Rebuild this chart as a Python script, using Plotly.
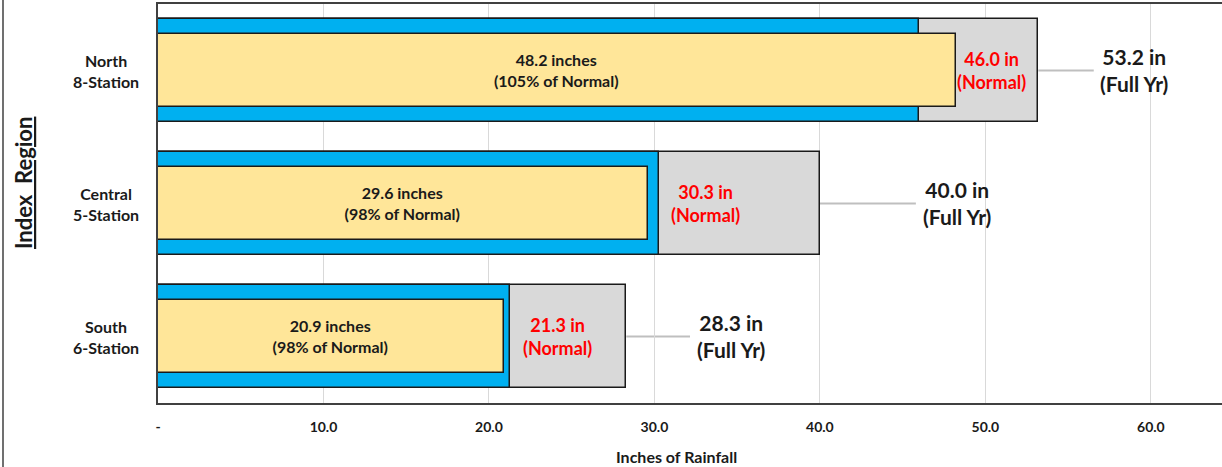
import plotly.graph_objects as go

# ---- data ----
regions = ["North", "Central", "South"]
region_labels = ["North<br>8-Station", "Central<br>5-Station", "South<br>6-Station"]
full_year = [53.2, 40.0, 28.3]
normal = [46.0, 30.3, 21.3]
actual = [48.2, 29.6, 20.9]
pct_normal = [105, 98, 98]
tick_vals = [0, 10, 20, 30, 40, 50, 60]
tick_text = ["-", "10.0", "20.0", "30.0", "40.0", "50.0", "60.0"]

# label positions (layout only)
normal_label_x = [50.4, 33.1, 24.15]
full_label_x = [59.0, 48.3, 34.65]
leader_end_x = [56.55, 45.8, 32.15]

FONT = "Lato"
W, H = 1222, 467
L, R, T, B = 158, 0, 4, 64
PW = W - L - R
PH = H - T - B

def px_to_paper_x(px):
    return (px - L) / PW

def px_to_paper_y(py):
    return (H - B - py) / PH

fig = go.Figure()

outline = dict(color="#1a1a1a", width=1.5)
fig.add_trace(go.Bar(y=regions, x=full_year, orientation="h", width=0.77,
                     marker=dict(color="#d9d9d9", line=outline), hoverinfo="skip"))
fig.add_trace(go.Bar(y=regions, x=normal, orientation="h", width=0.77,
                     marker=dict(color="#00b0f0", line=outline), hoverinfo="skip"))
fig.add_trace(go.Bar(y=regions, x=actual, orientation="h", width=0.555,
                     marker=dict(color="#ffe699", line=outline), hoverinfo="skip",
                     text=[f"<b>{a:.1f} inches<br>({p}% of Normal)</b>" for a, p in zip(actual, pct_normal)],
                     textposition="inside", insidetextanchor="middle",
                     textfont=dict(family=FONT, size=16, color="#1a1a1a")))

annotations = []
shapes = []
for i, r in enumerate(regions):
    annotations.append(dict(x=normal_label_x[i], y=r, xref="x", yref="y",
                            text=f"<b>{normal[i]:.1f} in<br>(Normal)</b>", showarrow=False,
                            font=dict(family=FONT, size=18, color="#ff0000"),
                            xanchor="center", yanchor="middle", yshift=0))
    annotations.append(dict(x=full_label_x[i], y=r, xref="x", yref="y",
                            text=f"<b>{full_year[i]:.1f} in<br>(Full Yr)</b>", showarrow=False,
                            font=dict(family=FONT, size=21, color="#1a1a1a"),
                            xanchor="center", yanchor="middle", yshift=1))
    annotations.append(dict(x=px_to_paper_x(106), y=r, xref="paper", yref="y",
                            text=f"<b>{region_labels[i]}</b>", showarrow=False,
                            font=dict(family=FONT, size=16, color="#1a1a1a"),
                            xanchor="center", yanchor="middle", align="center"))
    shapes.append(dict(type="line", xref="x", yref="y", x0=full_year[i], x1=leader_end_x[i],
                       y0=r, y1=r, line=dict(color="#bfbfbf", width=2), layer="below"))

annotations.append(dict(x=px_to_paper_x(676), y=px_to_paper_y(456), xref="paper", yref="paper",
                        text="<b>Inches of Rainfall</b>", showarrow=False,
                        font=dict(family=FONT, size=16, color="#1a1a1a"),
                        xanchor="center", yanchor="middle"))
annotations.append(dict(x=px_to_paper_x(23), y=px_to_paper_y(183), xref="paper", yref="paper",
                        text="<b><u>Index\u00a0\u00a0Region</u></b>", showarrow=False, textangle=-90,
                        font=dict(family=FONT, size=22, color="#1a1a1a"),
                        xanchor="center", yanchor="middle"))

shapes.append(dict(type="line", xref="paper", yref="paper",
                   x0=px_to_paper_x(3), x1=px_to_paper_x(3),
                   y0=px_to_paper_y(470), y1=px_to_paper_y(-3),
                   line=dict(color="#404040", width=1.5)))

fig.update_layout(
    width=W, height=H,
    margin=dict(l=L, r=R, t=T, b=B),
    barmode="overlay",
    showlegend=False,
    plot_bgcolor="white", paper_bgcolor="white",
    bargap=0,
    annotations=annotations,
    shapes=shapes,
    xaxis=dict(range=[0, 64.3], tickvals=tick_vals, ticktext=tick_text,
               showgrid=True, gridcolor="#d9d9d9", gridwidth=1,
               showline=True, linecolor="#404040", linewidth=2, mirror=True,
               zeroline=False, ticks="", ticklabelstandoff=10,
               tickfont=dict(family=FONT, size=14, color="#1a1a1a", weight="bold")),
    yaxis=dict(categoryorder="array", categoryarray=regions, autorange="reversed",
               showticklabels=False, showgrid=False, zeroline=False,
               showline=True, linecolor="#404040", linewidth=1.5, ticks=""),
)

fig.write_html("out.html", config={"displayModeBar": False},
               post_script="document.body.style.margin='0';document.body.style.overflow='hidden';")
